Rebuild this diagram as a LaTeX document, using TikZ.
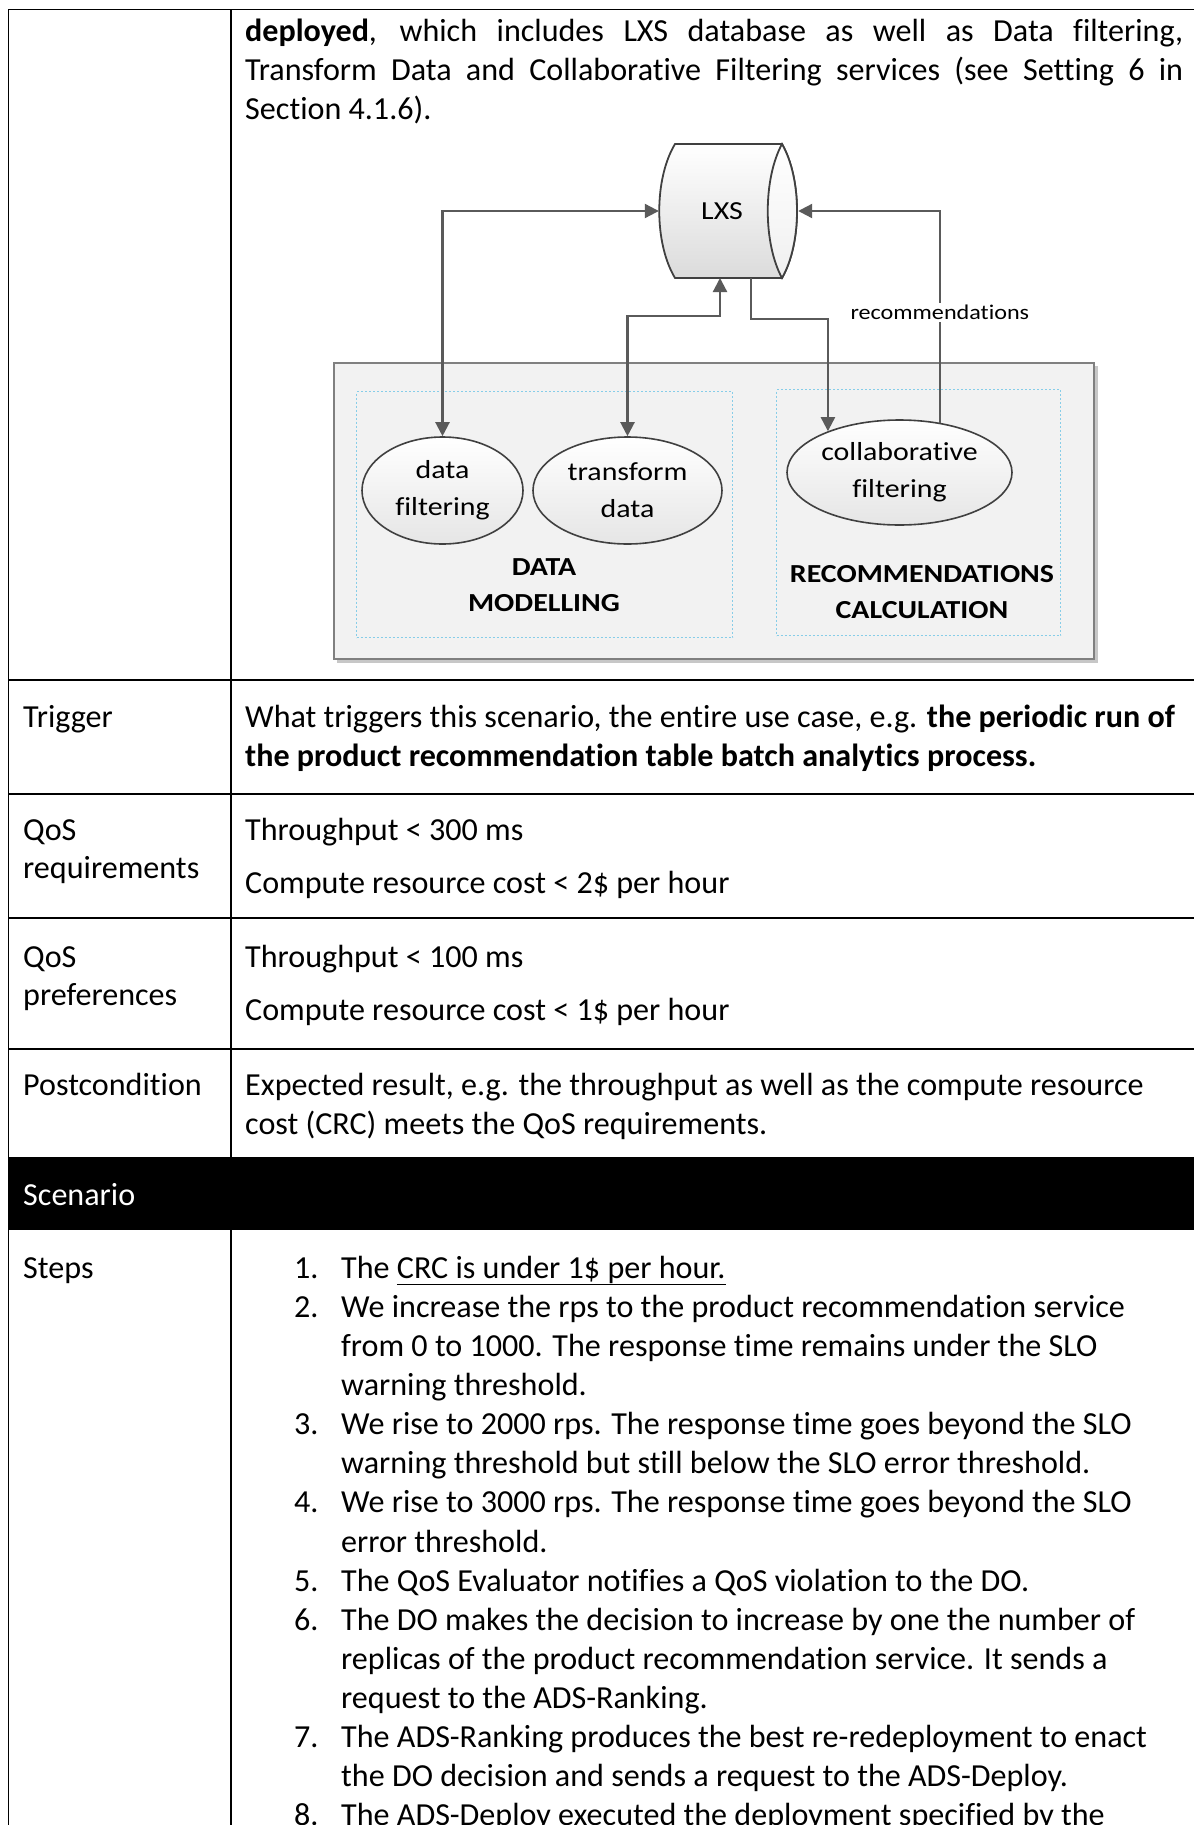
\documentclass[tikz,border=0pt]{standalone}
\usepackage{graphicx}
\usepackage{fontspec}
\setmainfont{Carlito}[Ligatures={NoCommon}]
\usetikzlibrary{shapes.geometric,arrows.meta}

\definecolor{linkgray}{RGB}{90,90,90}
\definecolor{panelfill}{RGB}{242,242,242}
\definecolor{paneledge}{RGB}{128,128,128}
\definecolor{groupblue}{RGB}{135,205,232}
\definecolor{outline}{RGB}{64,64,64}

\newcommand{\bodysize}{\fontsize{32.1}{39}\selectfont}
\newcommand{\figsize}{\fontsize{26}{37}\selectfont}
\newcommand{\labsize}{\fontsize{26}{36}\selectfont}
\newcommand{\smallfig}{\fontsize{21}{26}\selectfont}
\newcommand{\sx}[1]{\scalebox{1.15}[1]{#1}}

\begin{document}
\begin{tikzpicture}[x=1pt,y=-1pt,
  tabrule/.style={line width=1.6pt,draw=black},
  celltext/.style={anchor=base west,inner sep=0pt,font=\bodysize},
  link/.style={draw=linkgray,line width=2.2pt},
  >={Triangle[length=14pt,width=14pt]},
  proc/.style={ellipse,draw=outline,line width=1.6pt,top color=white,bottom color=black!10,
    inner sep=0pt,align=center,font=\figsize},
  group/.style={draw=groupblue,dash pattern=on 2pt off 2pt,line width=1.2pt,
    inner sep=0pt,anchor=north west},
  grouplabel/.style={font=\labsize\bfseries,align=center,inner sep=0pt}
]
\useasboundingbox (0,0) rectangle (1194,1825);
\fill[white] (0,0) rectangle (1194,1825);

% ---------- table frame ----------
\fill[black] (8.5,1157) rectangle (1194,1230);
\draw[tabrule] (1194,9.5) -- (8.5,9.5) -- (8.5,1825);
\draw[tabrule] (231,9.5) -- (231,1157);
\draw[tabrule] (231,1230) -- (231,1825);
\foreach \y in {680,794,918,1049} \draw[tabrule] (8.5,\y) -- (1194,\y);

% ---------- first row text ----------
\node[celltext] (p1) at (245,42) {\makebox[938pt][s]{\textbf{deployed}, which includes LXS database as well as Data filtering,}};
\node[celltext] (p2) at (245,81) {\makebox[938pt][s]{Transform Data and Collaborative Filtering services (see Setting 6 in}};
\node[celltext] (p3) at (245,120) {Section 4.1.6).};

% ---------- deployment diagram ----------
\fill[black!22] (337,366) rectangle (1098,663);
\node[draw=paneledge,fill=panelfill,line width=2pt,minimum width=760,minimum height=296,
  inner sep=0pt,anchor=north west] (panel) at (333,362) {};
\node[group,minimum width=376,minimum height=246] (model) at (356,391) {};
\node[group,minimum width=284,minimum height=246] (reco) at (776,389) {};

\node[proc,minimum width=161,minimum height=107] (df) at (442.5,490.5) {\sx{data}\\\sx{filtering}};
\node[proc,minimum width=189,minimum height=107] (td) at (627.5,490.5) {\sx{transform}\\\sx{data}};
\node[proc,minimum width=225,minimum height=105] (cf) at (899.5,472.5) {\sx{collaborative}\\\sx{filtering}};

\node[grouplabel] (modlabel) at (544,585) {\sx{DATA}\\\sx{MODELLING}};
\node[grouplabel] (recolabel) at (922,592.5) {\sx{RECOMMENDATIONS}\\\sx{CALCULATION}};

% LXS database drum
\path[draw=outline,line width=1.8pt,top color=white,bottom color=black!14]
  (675,144) -- (782,144) .. controls (802,179) and (802,243) .. (782,278)
  -- (675,278) .. controls (654,243) and (654,179) .. cycle;
\path[draw=outline,line width=1.8pt,top color=white,bottom color=black!6]
  (782,144) .. controls (802,179) and (802,243) .. (782,278)
  .. controls (763,243) and (763,179) .. cycle;
\node[inner sep=0pt,minimum width=139,minimum height=134,font=\figsize] (lxs) at (728.5,211) {\hspace*{-13pt}\sx{LXS}};
\coordinate (lxsin) at (720,278);
\coordinate (lxsout) at (751,278);

% connectors
\draw[link,<->] (lxs.west) -| (df.north);
\draw[link,<->] (lxsin) -- ++(0,38) -| (td.north);
\draw[link,->] (lxsout) -- ++(0,41) -| (cf.150);
\draw[link,->] (cf.51) |- node[pos=0.26,fill=white,inner sep=2pt,font=\smallfig,text=black] (reclabel) {\sx{recommendations}} (lxs.east);

% ---------- trigger ----------
\node[celltext] (trig) at (23,727) {Trigger};
\node[celltext] (trig1) at (245,727) {What triggers this scenario, the entire use case, e.g. \textbf{the periodic run of}};
\node[celltext] (trig2) at (245,766) {\textbf{the product recommendation table batch analytics process.}};

% ---------- QoS requirements ----------
\node[celltext] (req1) at (23,840) {QoS};
\node[celltext] (req2) at (23,878) {requirements};
\node[celltext] (reqa) at (245,840) {Throughput < 300 ms};
\node[celltext] (reqb) at (245,893) {Compute resource cost < 2\$ per hour};

% ---------- QoS preferences ----------
\node[celltext] (pref1) at (23,967) {QoS};
\node[celltext] (pref2) at (23,1005) {preferences};
\node[celltext] (prefa) at (245,967) {Throughput < 100 ms};
\node[celltext] (prefb) at (245,1020) {Compute resource cost < 1\$ per hour};

% ---------- postcondition ----------
\node[celltext] (post) at (23,1095) {Postcondition};
\node[celltext] (post1) at (245,1095) {Expected result, e.g. the throughput as well as the compute resource};
\node[celltext] (post2) at (245,1134) {cost (CRC) meets the QoS requirements.};

% ---------- scenario ----------
\node[celltext,text=white] (scen) at (23,1205) {Scenario};
\node[celltext] (steps) at (23,1278) {Steps};

\node[celltext] (n1) at (294,1278) {1.};
\node[celltext] (s1) at (341,1278) {The \underline{CRC is under 1\$ per hour.}};
\node[celltext] (n2) at (294,1317) {2.};
\node[celltext] (s2a) at (341,1317) {We increase the rps to the product recommendation service};
\node[celltext] (s2b) at (341,1356) {from 0 to 1000. The response time remains under the SLO};
\node[celltext] (s2c) at (341,1395) {warning threshold.};
\node[celltext] (n3) at (294,1434) {3.};
\node[celltext] (s3a) at (341,1434) {We rise to 2000 rps. The response time goes beyond the SLO};
\node[celltext] (s3b) at (341,1473) {warning threshold but still below the SLO error threshold.};
\node[celltext] (n4) at (294,1512) {4.};
\node[celltext] (s4a) at (341,1512) {We rise to 3000 rps. The response time goes beyond the SLO};
\node[celltext] (s4b) at (341,1552) {error threshold.};
\node[celltext] (n5) at (294,1591) {5.};
\node[celltext] (s5) at (341,1591) {The QoS Evaluator notifies a QoS violation to the DO.};
\node[celltext] (n6) at (294,1630) {6.};
\node[celltext] (s6a) at (341,1630) {The DO makes the decision to increase by one the number of};
\node[celltext] (s6b) at (341,1669) {replicas of the product recommendation service. It sends a};
\node[celltext] (s6c) at (341,1708) {request to the ADS-Ranking.};
\node[celltext] (n7) at (294,1747) {7.};
\node[celltext] (s7a) at (341,1747) {The ADS-Ranking produces the best re-redeployment to enact};
\node[celltext] (s7b) at (341,1786) {the DO decision and sends a request to the ADS-Deploy.};
\node[celltext] (n8) at (294,1825) {8.};
\node[celltext] (s8) at (341,1825) {The ADS-Deploy executed the deployment specified by the};
\end{tikzpicture}
\end{document}
